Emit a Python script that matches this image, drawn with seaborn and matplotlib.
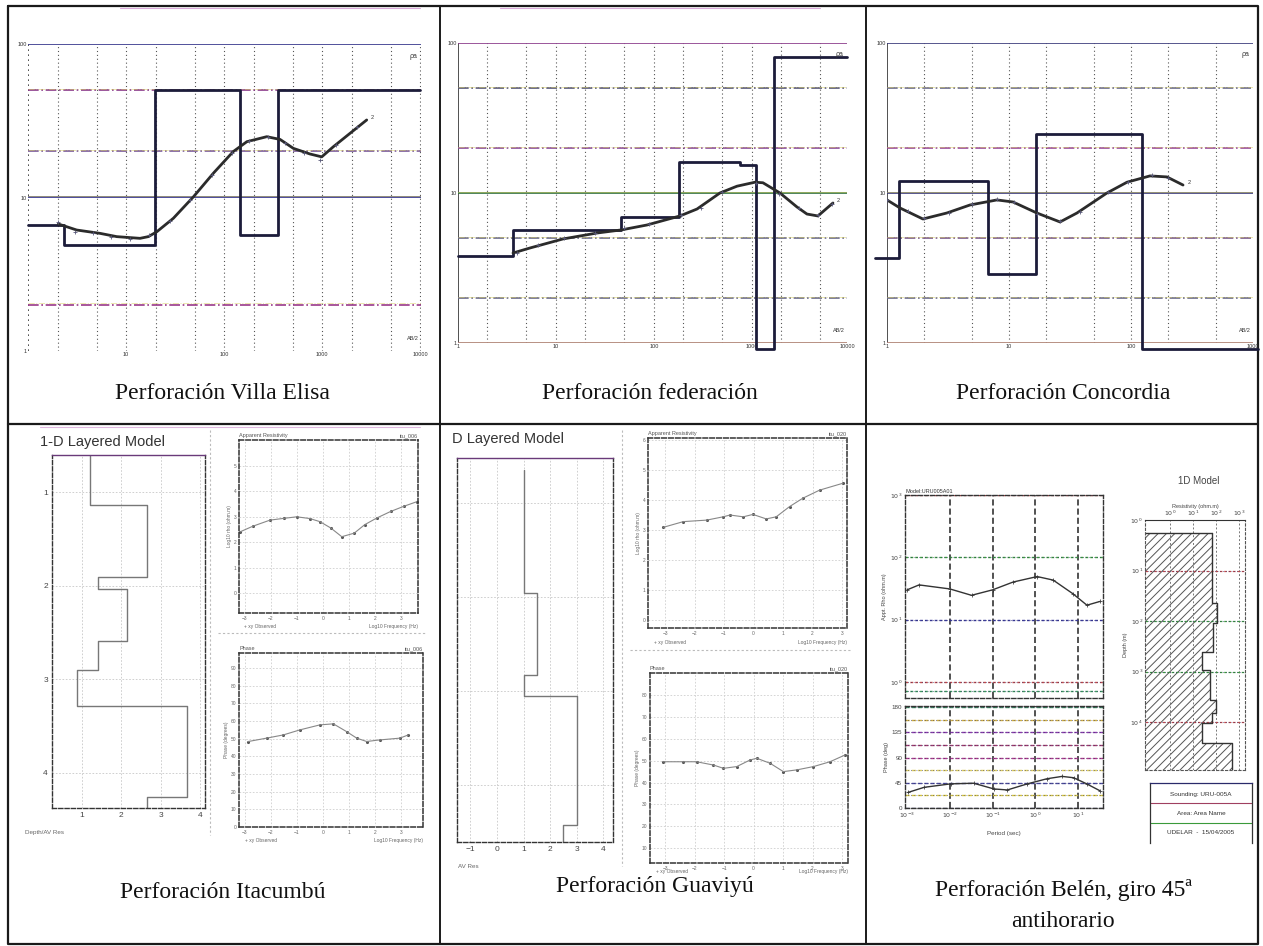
import numpy as np
import matplotlib
matplotlib.use("Agg")
import matplotlib.pyplot as plt
from matplotlib.ticker import NullLocator
import seaborn as sns

sns.set_style("white")
plt.rcParams['font.family'] = ['Liberation Sans', 'DejaVu Sans']
plt.rcParams['hatch.linewidth'] = 0.7

# ---------------- data ----------------
captions = ["Perforación Villa Elisa", "Perforación federación", "Perforación Concordia",
            "Perforación Itacumbú", "Perforación Guaviyú",
            "Perforación Belén, giro 45ª", "antihorario"]

# Top row: VES curves, AB/2 (m) vs apparent resistivity (ohm.m)
ve_step_ab = [1, 2.33, 19.8, 146, 356, 10000]
ve_step_rho = [6.62, 4.9, 50.1, 5.7, 50.1]
ve_fit_ab = [2.04, 3.14, 5.43, 8.04, 13.9, 16.9, 20.6, 30.4, 48.7, 77.9, 124, 171,
             273, 373, 510, 755, 993, 1303, 1932, 2857]
ve_fit_rho = [6.72, 6.14, 5.84, 5.56, 5.42, 5.56, 5.98, 7.32, 10.1, 14.4, 19.9, 23.1,
              24.9, 23.9, 20.9, 19.2, 18.4, 21.4, 26.2, 32.0]
ve_obs_ab = [2.0, 3.0, 4.6, 7.0, 11, 17, 28, 45, 75, 120, 180, 280, 420, 650, 950, 1400, 2300]
ve_obs_rho = [6.9, 6.0, 5.9, 5.5, 5.4, 5.7, 7.0, 9.6, 14.0, 19.5, 23.5, 24.6, 22.8, 19.6, 17.6, 22.0, 29.0]

fed_step_ab = [1, 3.64, 46.1, 180, 755, 1099, 1676, 9310]
fed_step_rho = [3.80, 5.66, 6.92, 16.1, 15.4, 0.91, 80.9]
fed_fit_ab = [3.64, 5.43, 11.8, 26.2, 46.1, 84.9, 184, 275, 471, 703, 1073, 1295,
              1932, 2878, 3640, 4712, 6708]
fed_fit_rho = [3.98, 4.30, 4.94, 5.41, 5.67, 6.12, 7.03, 7.82, 10.0, 11.1, 11.8, 11.7,
               10.0, 8.07, 7.24, 7.03, 8.58]
fed_obs_ab = [4.0, 6.5, 12, 25, 50, 90, 190, 300, 500, 1100, 1900, 3000, 4700, 6500]
fed_obs_rho = [4.0, 4.5, 5.0, 5.4, 5.8, 6.2, 7.1, 8.0, 10.2, 11.6, 9.8, 7.9, 7.1, 8.5]

conc_step_ab = [0.80, 1.25, 6.72, 16.6, 123, 1100]
conc_step_rho = [3.69, 12.0, 2.88, 24.7, 0.91]
conc_fit_ab = [1, 1.28, 1.97, 3.10, 4.79, 7.97, 10.8, 16.9, 26.2, 36.1, 63.5, 92.7, 143, 197, 267]
conc_fit_rho = [8.99, 7.94, 6.71, 7.36, 8.32, 8.99, 8.71, 7.36, 6.41, 7.36, 10.0, 11.8, 13.0, 12.8, 11.3]
conc_obs_ab = [1.0, 1.5, 2.0, 3.2, 5, 8, 11, 17, 26, 38, 65, 95, 150, 200]
conc_obs_rho = [9.0, 7.6, 6.8, 7.4, 8.4, 9.1, 8.7, 7.2, 6.5, 7.5, 10.1, 11.9, 13.1, 12.6]

# Bottom row: MT 1-D models and responses
ita_depth = [0.60, 1.14, 1.91, 2.04, 2.59, 2.90, 3.29, 4.26]
ita_res = [1.20, 2.65, 1.41, 2.14, 1.41, 0.88, 3.66, 2.65]
ita_bottom = 4.38
ita_rho_f = [-3.19, -2.7, -2.04, -1.5, -1.01, -0.5, -0.12, 0.3, 0.72, 1.2, 1.6, 2.06, 2.6, 3.1, 3.6]
ita_rho_v = [2.40, 2.62, 2.86, 2.93, 2.99, 2.92, 2.80, 2.55, 2.21, 2.35, 2.68, 2.94, 3.20, 3.40, 3.58]
ita_ph_f = [-2.87, -2.17, -1.53, -0.88, -0.12, 0.40, 0.91, 1.30, 1.68, 2.19, 2.96, 3.28]
ita_ph_v = [48.4, 50.3, 52.1, 55.0, 57.8, 58.4, 54.0, 50.3, 48.4, 49.3, 50.3, 52.1]

gua_depth = [0.65, 1.96, 2.83, 3.06, 4.43]
gua_res = [1.02, 1.5, 1.02, 3.0, 2.48]
gua_bottom = 4.61
gua_rho_f = [-3.06, -2.38, -1.59, -1.03, -0.80, -0.35, -0.02, 0.43, 0.77, 1.22, 1.67, 2.24, 3.03]
gua_rho_v = [3.09, 3.28, 3.33, 3.44, 3.5, 3.44, 3.52, 3.37, 3.44, 3.78, 4.06, 4.33, 4.56]
gua_ph_f = [-3.06, -2.38, -1.93, -1.36, -1.02, -0.57, -0.12, 0.11, 0.56, 1.01, 1.47, 2.03, 2.59, 3.10]
gua_ph_v = [49.5, 49.5, 49.5, 48.0, 46.5, 47.3, 50.3, 51.1, 48.8, 45.0, 45.8, 47.3, 49.5, 52.6]

bel_per = [0.001, 0.0019, 0.01, 0.032, 0.1, 0.3, 1.1, 2.6, 7.5, 16, 32]
bel_rho = [30, 36, 31, 24.5, 30, 40, 49, 43, 26, 17, 19.5]
bel_ph_per = [0.00105, 0.0025, 0.0105, 0.036, 0.107, 0.22, 0.65, 1.86, 4.2, 7.8, 15.8, 32]
bel_ph_deg = [27.8, 36.9, 43.1, 44.2, 34.0, 32.2, 43.1, 52.2, 56.4, 54.0, 43.1, 30.9]
bel_mod_depth = [1.82, 44.7, 112, 407, 933, 3630, 6607, 10470, 26300]
bel_mod_res = [64.6, 115, 76, 24, 55, 98, 64.6, 24, 479]
bel_mod_bottom = 89100
legend_rows = ["Sounding: URU-005A", "Area: Area Name", "UDELAR  -  15/04/2005"]

# ---------------- layout ----------------
W, H = 1263, 946
fig = plt.figure(figsize=(W / 100, H / 100), dpi=100)


def fr(l, t, r, b):
    return [l / W, 1 - b / H, (r - l) / W, (b - t) / H]


bg = fig.add_axes([0, 0, 1, 1])
bg.set_xlim(0, W)
bg.set_ylim(H, 0)
bg.axis('off')
# table frame
bg.plot([8, 1258, 1258, 8, 8], [6, 6, 944, 944, 6], color='#1a1a1a', lw=1.6)
bg.plot([440, 440], [6, 944], color='#1a1a1a', lw=1.4)
bg.plot([866, 866], [6, 944], color='#1a1a1a', lw=1.4)
bg.plot([8, 1258], [424, 424], color='#1a1a1a', lw=1.6)
bg.plot([120, 420], [8, 8], color='#c070c0', lw=0.8, alpha=0.6)
bg.plot([500, 820], [8.5, 8.5], color='#c070c0', lw=0.8, alpha=0.6)
bg.plot([40, 420], [426.5, 426.5], color='#c070c0', lw=0.8, alpha=0.5)
# sub-panel screenshot borders
for xs, ys in [([210, 210], [430, 835]), ([218, 425], [633, 633]),
               ([622, 622], [430, 866]), ([630, 850], [650, 650])]:
    bg.plot(xs, ys, color='#bbbbbb', lw=0.8, ls=(0, (2, 2)))

cap_font = ['Liberation Serif', 'DejaVu Serif']
cap_pos = [(222, 393), (650, 393), (1063, 393), (223, 892), (655, 886), (1063, 890), (1063, 921)]
for txt, (cx, cy) in zip(captions, cap_pos):
    bg.text(cx, cy, txt, ha='center', va='center', fontsize=17, family=cap_font, color='#111')


# ---------------- top row ----------------
def top_panel(box, xlim, step_ab, step_rho, fit_ab, fit_rho, obs_ab, obs_rho,
              hlines, xt, xtl, left_style):
    ax = fig.add_axes(fr(*box))
    ax.set_xscale('log')
    ax.set_yscale('log')
    ax.set_xlim(*xlim)
    ax.set_ylim(1, 100)
    for s in ax.spines.values():
        s.set_visible(False)
    ax.patch.set_alpha(0)
    grid_x = [m * 10 ** k for k in range(-1, 5) for m in (1, 2, 5)
              if xlim[0] * 1.001 < m * 10 ** k < xlim[1] * 0.999]
    for gx in grid_x:
        ax.axvline(gx, color='#555', lw=0.8, ls=(0, (1, 2.5)), zorder=1)
    ax.axvline(xlim[0], color='#333', lw=1.2, ls=left_style, zorder=1)
    for val, ls, col in hlines:
        ax.axhline(val, color=col, lw=1.2, ls=ls, zorder=1)
        ax.axhline(val * 1.02, color='#d8d060', lw=0.7, ls=ls, alpha=0.5, zorder=1)
    ax.xaxis.set_minor_locator(NullLocator())
    ax.yaxis.set_minor_locator(NullLocator())
    ax.set_xticks(xt, xtl)
    ax.set_yticks([1, 10, 100], ['1', '10', '100'])
    ax.tick_params(length=0, labelsize=4, pad=1, colors='#333')
    sns.lineplot(x=step_ab, y=list(step_rho) + [step_rho[-1]], drawstyle='steps-post',
                 color='#1c1c3a', lw=2.0, ax=ax, sort=False, estimator=None,
                 clip_on=False, zorder=3)
    sns.lineplot(x=fit_ab, y=fit_rho, color='#2b2b2b', lw=2.0, ax=ax, sort=False,
                 estimator=None, zorder=4)
    sns.scatterplot(x=obs_ab, y=obs_rho, marker='+', s=8, color='#5a5a7a',
                    linewidth=0.6, ax=ax, zorder=5)
    ax.annotate('2', (fit_ab[-1], fit_rho[-1]), xytext=(3, 1), textcoords='offset points',
                fontsize=4, color='#333')
    ax.text(0.99, 0.955, 'ρa', transform=ax.transAxes, fontsize=5, ha='right', color='#333')
    ax.text(0.995, 0.035, 'AB/2', transform=ax.transAxes, fontsize=4, ha='right', color='#333')
    ax.set_xlabel('')
    ax.set_ylabel('')
    return ax


top_panel((28, 44, 421, 351), (1, 10230), ve_step_ab, ve_step_rho, ve_fit_ab, ve_fit_rho,
          ve_obs_ab, ve_obs_rho,
          [(100, '-', '#34348a'), (50, '-.', '#8a3a8a'), (20, '-.', '#7a5a9a'),
           (10, '-', '#2f2f8a'), (2, '-.', '#9a3a8a')],
          [10, 100, 1000, 10000], ['10', '100', '1000', '10000'], (0, (1, 2)))
top_panel((458, 43, 847, 343), (1, 9330), fed_step_ab, fed_step_rho, fed_fit_ab, fed_fit_rho,
          fed_obs_ab, fed_obs_rho,
          [(100, '-', '#8a3a8a'), (50, '-.', '#555577'), (20, '-.', '#8a4a9a'),
           (10, '-', '#2f6f3f'), (5, '-.', '#6a6a8a'), (2, '-.', '#6a6a8a'), (1, '-', '#8a3a9a')],
          [1, 10, 100, 1000, 9330], ['1', '10', '100', '1000', '10000'], '-')
top_panel((887, 43, 1253, 343), (1, 1000), conc_step_ab, conc_step_rho, conc_fit_ab,
          conc_fit_rho, conc_obs_ab, conc_obs_rho,
          [(100, '-', '#3a3a7a'), (50, '-.', '#6a6a8a'), (20, '-.', '#9a4a9a'),
           (10, '-', '#3a3a7a'), (5, '-.', '#7a5a8a'), (2, '-.', '#6a6a8a'), (1, '-', '#8a3a9a')],
          [1, 10, 100, 1000], ['1', '10', '100', '1000'], '-')


# ---------------- bottom row helpers ----------------
def frame(ax, color='#333', lw=1.0, ls=(0, (3, 1.5))):
    for s in ax.spines.values():
        s.set_visible(True)
        s.set_color(color)
        s.set_linewidth(lw)
        s.set_linestyle(ls)


def layered(box, xlim, ylim, depth, res, bottom, xt, yt, ytl, title, tpos, xlabel, xlpos):
    ax = fig.add_axes(fr(*box))
    ax.set_xlim(*xlim)
    ax.set_ylim(*ylim)
    frame(ax)
    ax.spines['top'].set_linestyle('-')
    ax.spines['top'].set_color('#6a3a7a')
    ax.set_xticks(xt)
    ax.set_yticks(yt, ytl)
    ax.grid(True, color='#c8c8c8', lw=0.6, ls=(0, (2, 2)))
    ax.tick_params(length=0, labelsize=6, pad=3, colors='#444')
    sns.lineplot(x=list(res) + [res[-1]], y=list(depth) + [bottom], drawstyle='steps-pre',
                 color='#777', lw=1.0, ax=ax, sort=False, estimator=None)
    ax.set_xlabel('')
    ax.set_ylabel('')
    bg.text(tpos[0], tpos[1], title, fontsize=10.5, ha='left', va='center', color='#333')
    bg.text(xlpos[0], xlpos[1], xlabel, fontsize=4.5, ha='left', va='center', color='#666')
    return ax


def response(box, xlim, ylim, xs, ys, yt, title_l, title_r, ylabel, xlabel, lab_off=-0.085):
    ax = fig.add_axes(fr(*box))
    ax.set_xlim(*xlim)
    ax.set_ylim(*ylim)
    frame(ax, lw=1.1)
    ax.set_xticks(range(int(np.ceil(xlim[0])), int(np.floor(xlim[1])) + 1))
    ax.set_yticks(yt)
    ax.grid(True, color='#cfcfcf', lw=0.6, ls=(0, (2, 2)))
    ax.tick_params(length=0, labelsize=3.5, pad=2, colors='#666')
    sns.lineplot(x=xs, y=ys, color='#888', lw=0.8, ax=ax, sort=False, estimator=None)
    sns.scatterplot(x=xs, y=ys, color='#555', s=5, marker='o', linewidth=0, ax=ax)
    ax.set_title(title_l, loc='left', fontsize=4, pad=2, color='#555')
    ax.set_title(title_r, loc='right', fontsize=4, pad=2, color='#555')
    ax.set_ylabel(ylabel, fontsize=3.5, labelpad=1, color='#666')
    ax.set_xlabel('')
    ax.text(1.0, lab_off, xlabel, transform=ax.transAxes, fontsize=3.5, ha='right', color='#666')
    ax.text(0.03, lab_off, '+ xy Observed', transform=ax.transAxes, fontsize=3.5, ha='left', color='#666')
    return ax


# Itacumbú
layered((52, 455, 205, 808), (0.24, 4.13), (4.38, 0.6), ita_depth, ita_res, ita_bottom,
        [1, 2, 3, 4], [1, 2, 3, 4], ['1', '2', '3', '4'], '1-D Layered Model', (40, 442),
        'Depth/AV Res', (25, 832))
response((239, 440, 418, 613), (-3.23, 3.65), (-0.78, 6.0), ita_rho_f, ita_rho_v,
         [0, 1, 2, 3, 4, 5], 'Apparent Resistivity', 'itu_006', 'Log10 rho (ohm.m)',
         'Log10 Frequency (Hz)')
response((239, 653, 423, 827), (-3.23, 3.85), (0, 98.5), ita_ph_f, ita_ph_v,
         [0, 10, 20, 30, 40, 50, 60, 70, 80, 90], 'Phase', 'itu_006', 'Phase (degrees)',
         'Log10 Frequency (Hz)')

# Guaviyú
layered((457, 458, 613, 842), (-1.5, 4.36), (4.61, 0.52), gua_depth, gua_res, gua_bottom,
        [-1, 0, 1, 2, 3, 4], [1, 2, 3, 4], ['', '', '', ''], 'D Layered Model', (452, 439),
        'AV Res', (458, 866))
response((648, 438, 847, 628), (-3.58, 3.17), (-0.27, 6.07), gua_rho_f, gua_rho_v,
         [0, 1, 2, 3, 4, 5, 6], 'Apparent Resistivity', 'itu_020', 'Log10 rho (ohm.m)',
         'Log10 Frequency (Hz)')
response((650, 673, 848, 863), (-3.51, 3.2), (3.3, 90), gua_ph_f, gua_ph_v,
         [10, 20, 30, 40, 50, 60, 70, 80], 'Phase', 'itu_020', 'Phase (degrees)',
         'Log10 Frequency (Hz)', lab_off=-0.05)

# Belén: apparent resistivity
axr = fig.add_axes(fr(905, 495, 1103, 698))
axr.set_xscale('log')
axr.set_yscale('log')
axr.set_xlim(10 ** -3.05, 10 ** 1.58)
axr.set_ylim(10 ** -0.26, 1000)
frame(axr, color='#333', lw=1.0, ls=(0, (3, 1.5)))
for v in [1e-2, 1e-1, 1, 10]:
    axr.axvline(v, color='#222', lw=1.1, ls=(0, (4, 2)))
for val, col in [(1000, '#c04848'), (100, '#3a9a3a'), (10, '#3a3a9a'), (1, '#c04848'), (0.72, '#3a9a5a')]:
    axr.axhline(val, color=col, lw=1.0, ls=(0, (2, 1.5)))
    axr.axhline(val, color='#2a2a6a', lw=0.5, ls=(0, (1, 3)))
axr.xaxis.set_minor_locator(NullLocator())
axr.yaxis.set_minor_locator(NullLocator())
axr.set_xticks([1e-3, 1e-2, 1e-1, 1, 10], [])
axr.set_yticks([1, 10, 100, 1000], ['$10^0$', '$10^1$', '$10^2$', '$10^3$'])
axr.tick_params(length=0, labelsize=4.5, pad=2, colors='#444')
sns.lineplot(x=bel_per, y=bel_rho, color='#333', lw=1.0, ax=axr, sort=False, estimator=None)
sns.scatterplot(x=bel_per, y=bel_rho, color='#444', marker='+', s=10, linewidth=0.6, ax=axr)
axr.set_ylabel('Appt. Rho (ohm.m)', fontsize=4, labelpad=2, color='#444')
axr.set_xlabel('')
axr.set_title('Model:URU005A01', loc='left', fontsize=4, pad=1.5, color='#333')

# Belén: phase
axp = fig.add_axes(fr(905, 706, 1103, 808))
axp.set_xscale('log')
axp.set_xlim(10 ** -3.05, 10 ** 1.58)
axp.set_ylim(0, 182)
frame(axp, color='#333', lw=1.0, ls=(0, (3, 1.5)))
for v in [1e-2, 1e-1, 1, 10]:
    axp.axvline(v, color='#222', lw=1.1, ls=(0, (4, 2)))
ph_cols = ['#3a3a6a', '#d8c840', '#4a4a9a', '#e0d060', '#b03a8a', '#a03a6a', '#8a3aaa', '#d0b040', '#3a8a5a']
for k, col in enumerate(ph_cols):
    axp.axhline(22.5 * k, color=col, lw=1.0, ls=(0, (3, 1.5)))
    axp.axhline(22.5 * k, color='#2a2a6a', lw=0.5, ls=(0, (1, 3)))
axp.xaxis.set_minor_locator(NullLocator())
axp.set_xticks([1e-3, 1e-2, 1e-1, 1, 10],
               ['$10^{-3}$', '$10^{-2}$', '$10^{-1}$', '$10^{0}$', '$10^{1}$'])
axp.set_yticks([0, 45, 90, 135, 180], ['0', '45', '90', '135', '180'])
axp.tick_params(length=0, labelsize=4.5, pad=2, colors='#444')
sns.lineplot(x=bel_ph_per, y=bel_ph_deg, color='#333', lw=1.0, ax=axp, sort=False, estimator=None)
sns.scatterplot(x=bel_ph_per, y=bel_ph_deg, color='#444', marker='+', s=10, linewidth=0.6, ax=axp)
axp.set_ylabel('Phase (deg)', fontsize=4, labelpad=2, color='#444')
axp.set_xlabel('Period (sec)', fontsize=4.5, labelpad=8, color='#444')

# Belén: 1D model
axm = fig.add_axes(fr(1145, 520, 1245, 770))
axm.set_xscale('log')
axm.set_yscale('log')
axm.set_xlim(10 ** -1.09, 10 ** 3.26)
axm.set_ylim(bel_mod_bottom, 1)
frame(axm, color='#555', lw=0.8, ls=(0, (2, 2)))
axm.spines['top'].set_linestyle('-')
axm.spines['top'].set_color('#333')
for v in [1, 10, 100, 1000]:
    axm.axvline(v, color='#777', lw=0.7, ls=(0, (2, 2)))
for val, col in [(10, '#c04848'), (100, '#3a9a3a'), (1000, '#3a9a3a'), (10000, '#c04848')]:
    axm.axhline(val, color=col, lw=0.9, ls=(0, (2, 1.5)))
    axm.axhline(val, color='#2a2a6a', lw=0.5, ls=(0, (1, 3)))
dep_ext = list(bel_mod_depth) + [bel_mod_bottom]
res_ext = list(bel_mod_res) + [bel_mod_res[-1]]
axm.fill_betweenx(dep_ext, 10 ** -1.09, res_ext, step='post', facecolor='none',
                  edgecolor='#555', hatch='////', lw=0)
sns.lineplot(x=res_ext, y=dep_ext, drawstyle='steps-pre', color='#333', lw=1.0, ax=axm,
             sort=False, estimator=None)
axm.plot([10 ** -1.09, bel_mod_res[0]], [bel_mod_depth[0], bel_mod_depth[0]], color='#333', lw=1.0)
axm.xaxis.set_minor_locator(NullLocator())
axm.yaxis.set_minor_locator(NullLocator())
axm.xaxis.tick_top()
axm.set_xticks([1, 10, 100, 1000], ['$10^0$', '$10^1$', '$10^2$', '$10^3$'])
axm.set_yticks([1, 10, 100, 1000, 10000], ['$10^0$', '$10^1$', '$10^2$', '$10^3$', '$10^4$'])
axm.tick_params(length=0, labelsize=4.5, pad=1.5, colors='#444')
axm.set_ylabel('Depth (m)', fontsize=4, labelpad=2, color='#444')
axm.set_xlabel('')
axm.set_title('Resistivity (ohm.m)', fontsize=4, pad=9, color='#444')
bg.text(1199, 481, '1D Model', fontsize=7, ha='center', va='center', color='#444')

# Belén: sounding legend box
axl = fig.add_axes(fr(1150, 783, 1252, 843))
axl.set_xlim(0, 1)
axl.set_ylim(3, 0)
axl.set_xticks([])
axl.set_yticks([])
for s in axl.spines.values():
    s.set_color('#333')
    s.set_linewidth(0.9)
axl.spines['bottom'].set_visible(False)
axl.spines['top'].set_color('#2a2a6a')
for yy, col in [(1.0, '#a04060'), (2.0, '#3a9a3a')]:
    axl.axhline(yy, color=col, lw=0.8)
for k, txt in enumerate(legend_rows):
    axl.text(0.5, 0.55 + k * 0.95, txt, fontsize=4.6, ha='center', va='center', color='#333')

fig.savefig('out.png', dpi=100)
